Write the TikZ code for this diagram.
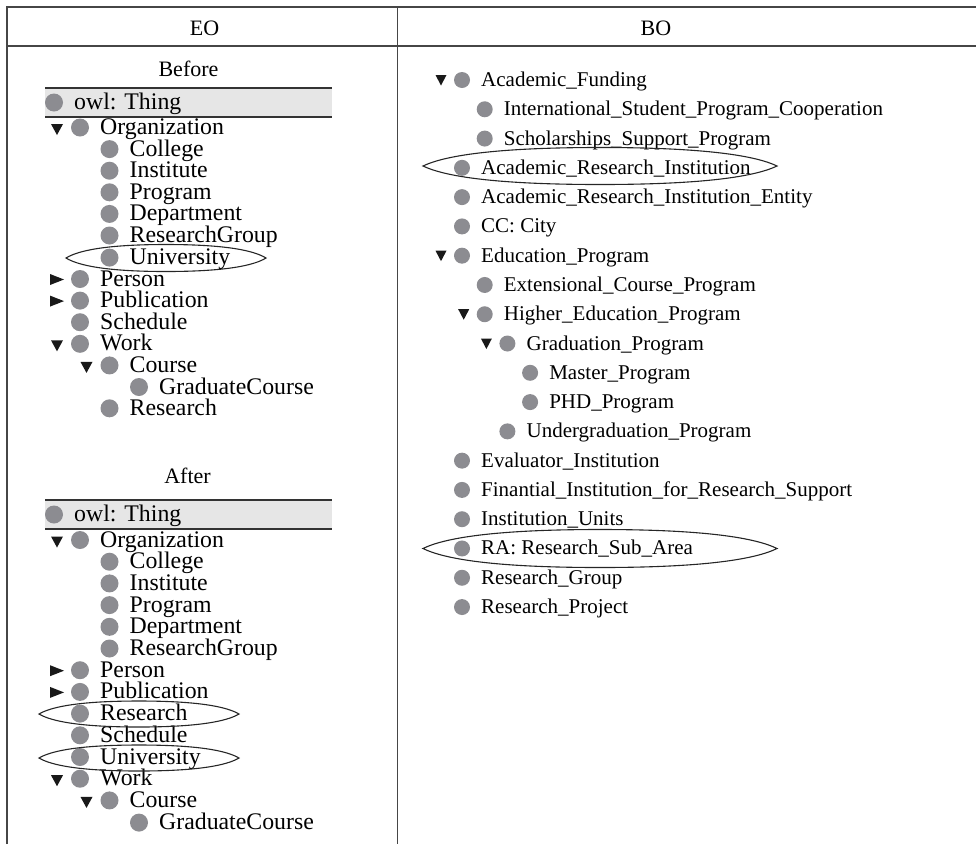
\documentclass[tikz,border=0pt]{standalone}
\usepackage{fontspec}
\setmainfont{Liberation Serif}

\definecolor{dotgray}{RGB}{140,140,145}
\definecolor{barfill}{RGB}{230,230,230}
\definecolor{rulegray}{RGB}{70,70,70}

\tikzset{
  tline/.style={draw=rulegray, line width=1.8pt},
  barline/.style={draw=black!80, line width=2pt},
  hdr/.style={inner sep=0, font=\fontsize{22}{25}\selectfont},
  ldot/.style={circle, fill=dotgray, inner sep=0, minimum size=18pt},
  rdot/.style={circle, fill=dotgray, inner sep=0, minimum size=16pt},
  ltext/.style={anchor=base west, inner sep=0, font=\fontsize{23.8}{26}\selectfont},
  rtext/.style={anchor=base west, inner sep=0, font=\fontsize{21}{23}\selectfont},
  trimark/.style={fill=black!90},
  hl/.style={draw=black!85, line width=1.1pt}
}

% left-column entry: name, level, y, label
\newcommand{\lrow}[4]{%
  \pgfmathsetmacro{\cx}{80+29.5*#2}%
  \node[ldot] (#1d) at (\cx,#3) {};%
  \node[ltext] (#1) at (\cx+20,#3+7) {#4};}
% left-column expander marks: level, y
\newcommand{\ldown}[2]{%
  \pgfmathsetmacro{\tx}{57+29.5*#1}%
  \fill[trimark] ({\tx-6},{#2-3.5}) -- ({\tx+6},{#2-3.5}) -- (\tx,{#2+7.5}) -- cycle;}
\newcommand{\lright}[2]{%
  \pgfmathsetmacro{\tx}{57+29.5*#1}%
  \fill[trimark] ({\tx-7},{#2-5}) -- ({\tx-7},{#2+6}) -- ({\tx+7},{#2+0.5}) -- cycle;}

% right-column entry: name, level, row index, label
\newcommand{\rrow}[4]{%
  \pgfmathsetmacro{\cx}{462+22.7*#2}%
  \pgfmathsetmacro{\cy}{80+29.28*#3}%
  \node[rdot] (#1d) at (\cx,\cy) {};%
  \node[rtext] (#1) at (\cx+19,\cy+6.5) {#4};}
\newcommand{\rdown}[2]{%
  \pgfmathsetmacro{\tx}{441+22.7*#1}%
  \pgfmathsetmacro{\ty}{80+29.28*#2}%
  \fill[trimark] ({\tx-5.5},{\ty-5}) -- ({\tx+5.5},{\ty-5}) -- (\tx,{\ty+5.5}) -- cycle;}

% highlight ring with pointed ends: cx, cy, rx, ry
\newcommand{\ring}[4]{%
  \draw[hl] ({#1-#3},{#2})
    .. controls ({#1-0.88*#3},{#2-0.55*#4}) and ({#1-0.6*#3},{#2-#4}) .. ({#1},{#2-#4})
    .. controls ({#1+0.6*#3},{#2-#4}) and ({#1+0.88*#3},{#2-0.55*#4}) .. ({#1+#3},{#2})
    .. controls ({#1+0.88*#3},{#2+0.55*#4}) and ({#1+0.6*#3},{#2+#4}) .. ({#1},{#2+#4})
    .. controls ({#1-0.6*#3},{#2+#4}) and ({#1-0.88*#3},{#2+0.55*#4}) .. ({#1-#3},{#2}) -- cycle;}

\begin{document}
\begin{tikzpicture}[x=1pt, y=-1pt]
\useasboundingbox (0,0) rectangle (976,844);

% table rules
\draw[tline] (7,844) -- (7,7) -- (976,7);
\draw[tline] (7,46) -- (976,46);
\draw[tline] (397.5,7) -- (397.5,844);

% column headings
\node[hdr] (eo) at (204.5,28) {EO};
\node[hdr] (bo) at (656,28) {BO};

% ---------- EO: before ----------
\node[hdr] (before) at (188.5,68.5) {Before};
\fill[barfill] (45,88) rectangle (332,117);
\draw[barline] (45,88) -- (332,88);
\draw[barline] (45,117) -- (332,117);
\node[ldot] (bthingd) at (54,102.5) {};
\node[ltext] (bthing) at (74,109.5) {owl: Thing};

\ldown{0}{127.5}
\lrow{borg}{0}{127.5}{Organization}
\lrow{bcol}{1}{149.1}{College}
\lrow{binst}{1}{170.7}{Institute}
\lrow{bprog}{1}{192.3}{Program}
\lrow{bdept}{1}{213.9}{Department}
\lrow{brg}{1}{235.5}{ResearchGroup}
\lrow{buni}{1}{257.6}{University}
\lright{0}{279}
\lrow{bpers}{0}{279}{Person}
\lright{0}{300.6}
\lrow{bpub}{0}{300.6}{Publication}
\lrow{bsch}{0}{322.2}{Schedule}
\ldown{0}{343.8}
\lrow{bwork}{0}{343.8}{Work}
\ldown{1}{365.4}
\lrow{bcourse}{1}{365.4}{Course}
\lrow{bgrad}{2}{387}{GraduateCourse}
\lrow{bres}{1}{408.3}{Research}
\ring{166}{258}{100}{13.5}

% ---------- EO: after ----------
\node[hdr] (after) at (187.5,476) {After};
\fill[barfill] (45,500) rectangle (332,529);
\draw[barline] (45,500) -- (332,500);
\draw[barline] (45,529) -- (332,529);
\node[ldot] (athingd) at (54,514.5) {};
\node[ltext] (athing) at (74,521.5) {owl: Thing};

\ldown{0}{540}
\lrow{aorg}{0}{540}{Organization}
\lrow{acol}{1}{561.7}{College}
\lrow{ainst}{1}{583.4}{Institute}
\lrow{aprog}{1}{605.1}{Program}
\lrow{adept}{1}{626.8}{Department}
\lrow{arg}{1}{648.5}{ResearchGroup}
\lright{0}{670.2}
\lrow{apers}{0}{670.2}{Person}
\lright{0}{691.9}
\lrow{apub}{0}{691.9}{Publication}
\lrow{ares}{0}{713.6}{Research}
\lrow{asch}{0}{735.3}{Schedule}
\lrow{auni}{0}{757}{University}
\ldown{0}{778.7}
\lrow{awork}{0}{778.7}{Work}
\ldown{1}{800.4}
\lrow{acourse}{1}{800.4}{Course}
\lrow{agrad}{2}{822.6}{GraduateCourse}
\ring{139}{714}{100}{13}
\ring{139}{758}{100}{13}

% ---------- BO ----------
\rdown{0}{0}
\rrow{fund}{0}{0}{Academic\_Funding}
\rrow{intl}{1}{1}{International\_Student\_Program\_Cooperation}
\rrow{schol}{1}{2}{Scholarships\_Support\_Program}
\rrow{ari}{0}{3}{Academic\_Research\_Institution}
\rrow{arie}{0}{4}{Academic\_Research\_Institution\_Entity}
\rrow{city}{0}{5}{CC: City}
\rdown{0}{6}
\rrow{edu}{0}{6}{Education\_Program}
\rrow{ext}{1}{7}{Extensional\_Course\_Program}
\rdown{1}{8}
\rrow{higher}{1}{8}{Higher\_Education\_Program}
\rdown{2}{9}
\rrow{gradp}{2}{9}{Graduation\_Program}
\rrow{master}{3}{10}{Master\_Program}
\rrow{phd}{3}{11}{PHD\_Program}
\rrow{under}{2}{12}{Undergraduation\_Program}
\rrow{eval}{0}{13}{Evaluator\_Institution}
\rrow{fin}{0}{14}{Finantial\_Institution\_for\_Research\_Support}
\rrow{units}{0}{15}{Institution\_Units}
\rrow{ra}{0}{16}{RA: Research\_Sub\_Area}
\rrow{rgroup}{0}{17}{Research\_Group}
\rrow{rproj}{0}{18}{Research\_Project}
\ring{600}{166}{177}{18.5}
\ring{600}{548.5}{177}{19}
\end{tikzpicture}
\end{document}
